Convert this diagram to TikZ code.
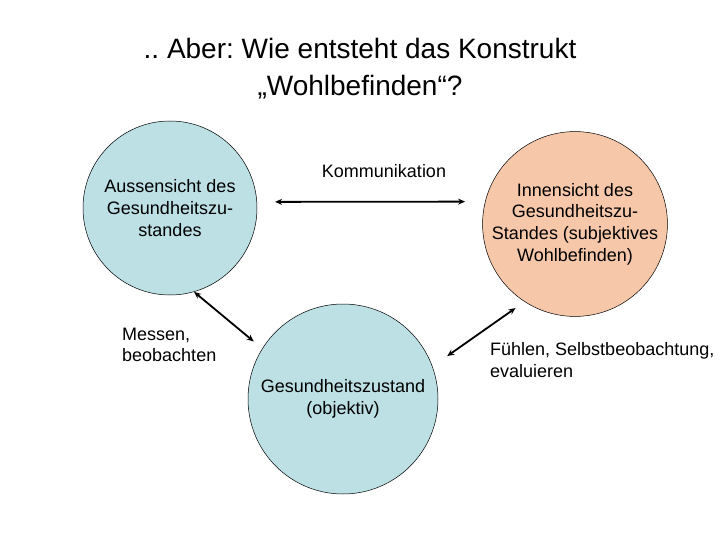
\documentclass[tikz,border=0pt]{standalone}
\usepackage{fontspec}
\setmainfont{Liberation Sans}
\usetikzlibrary{arrows.meta}
\frenchspacing

\definecolor{zustandblau}{RGB}{188,224,228}
\definecolor{innenrosa}{RGB}{247,199,170}

\begin{document}
\begin{tikzpicture}[x=1pt,y=-1pt]

\useasboundingbox (0,0) rectangle (720,540);

\tikzstyle{every node}=[inner sep=0pt,font=\fontsize{18}{21.6}\selectfont];
\tikzstyle{kreis}=[draw,shape=circle,line width=0.5pt,align=center];
\tikzstyle{pfeil}=[line width=1.8pt,{Stealth[length=7pt,width=6pt]}-{Stealth[length=7pt,width=6pt]}];

% Title
\node[align=center,font=\fontsize{28}{37}\selectfont] (titel) at (360,69)
  {.. Aber: Wie entsteht das Konstrukt\\„Wohlbefinden“?};

% Draw the three circles
\node[kreis,fill=zustandblau,minimum size=174pt] (aussen) at (170,208)
  {Aussensicht des\\Gesundheitszu-\\standes};
\node[kreis,fill=innenrosa,minimum size=182pt] (innen) at (575,224)
  {Innensicht des\\Gesundheitszu-\\Standes (subjektives\\Wohlbefinden)};
\node[kreis,fill=zustandblau,minimum size=190pt] (zustand) at (343,399)
  {Gesundheitszustand\\(objektiv)};

% Labels of the links
\node (komm) at (384,171) {Kommunikation};
\node[anchor=west,align=left] (messen) at (122,345) {Messen,\\beobachten};
\node[anchor=west,align=left] (fuehlen) at (490,360) {Fühlen, Selbstbeobachtung,\\evaluieren};

% Links between the circles
\draw[pfeil,shorten <=18pt,shorten >=20pt] (aussen.4) -- (innen.166);
\draw[pfeil,shorten >=11pt] (aussen.286) -- (zustand.148);
\draw[pfeil,shorten <=18pt,shorten >=11pt] (zustand.20) -- (innen.237);

\end{tikzpicture}
\end{document}
